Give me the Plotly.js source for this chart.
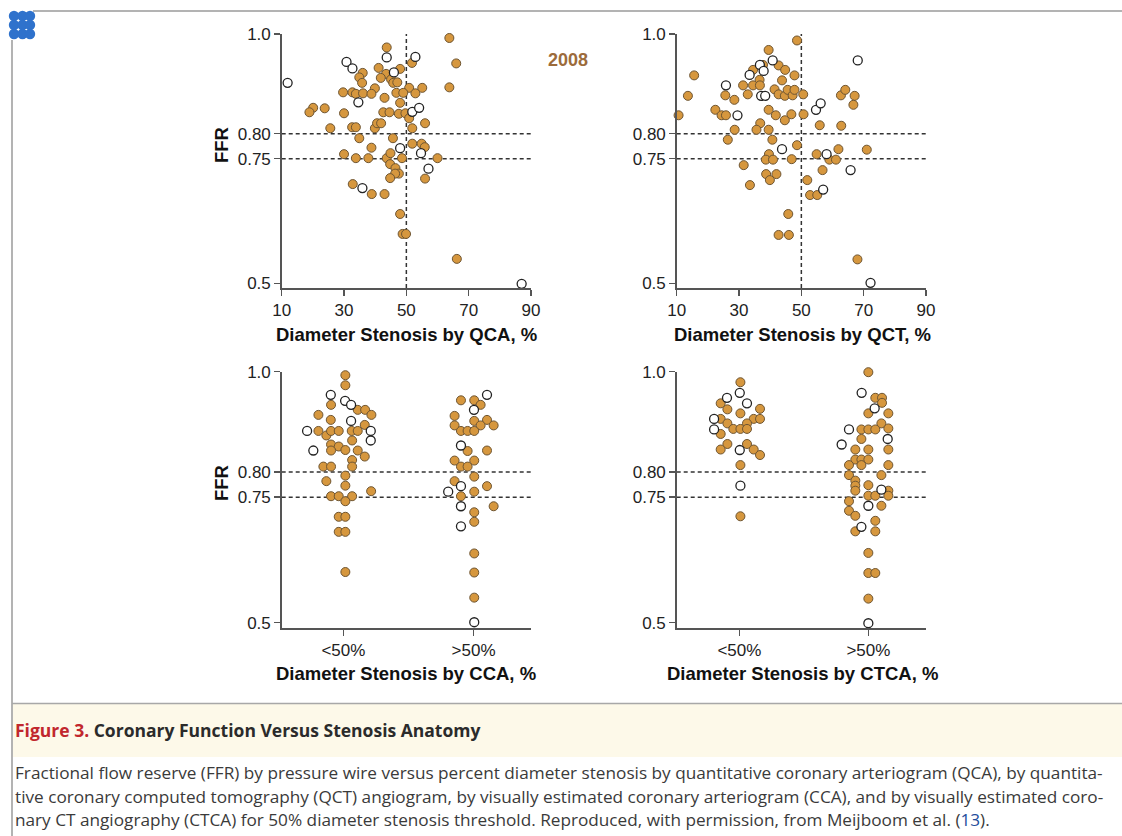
<!DOCTYPE html>
<html>
<head>
<meta charset="utf-8">
<script src="https://cdn.plot.ly/plotly-3.0.1.min.js"></script>
<style>
  html, body { margin: 0; padding: 0; background: #ffffff; }
  #chart { width: 1122px; height: 836px; }
</style>
</head>
<body>
<div id="chart"></div>
<script>
// ---------- DATA ----------
// Panel A: FFR vs diameter stenosis by QCA (%)
const qcaFilledX = [63.8,43.7,51.8,66.0,41.1,48.0,36.0,43.5,34.9,41.8,45.1,35.8,45.8,47.1,63.8,50.9,55.1,39.9,29.7,32.7,33.8,36.1,38.8,46.8,49.0,52.9,43.0,48.0,20.1,18.9,23.8,30.0,42.6,44.6,47.6,49.7,50.9,25.6,32.6,33.8,39.9,40.6,41.9,51.9,56.0,34.9,45.7,51.9,54.9,55.9,38.8,30.0,33.8,37.8,43.7,44.9,48.6,60.0,44.8,46.5,47.6,46.4,44.8,56.0,32.8,38.9,43.0,48.0,48.8,49.9,66.2];
const qcaFilledY = [0.992,0.973,0.942,0.941,0.932,0.930,0.922,0.920,0.913,0.912,0.909,0.902,0.902,0.903,0.893,0.892,0.892,0.891,0.883,0.883,0.880,0.881,0.880,0.882,0.882,0.881,0.872,0.862,0.852,0.843,0.851,0.841,0.843,0.843,0.840,0.841,0.831,0.811,0.813,0.813,0.811,0.821,0.821,0.811,0.821,0.791,0.791,0.780,0.780,0.773,0.772,0.759,0.751,0.751,0.751,0.761,0.751,0.751,0.739,0.731,0.720,0.720,0.711,0.710,0.699,0.679,0.679,0.639,0.599,0.599,0.549];
const qcaOpenX = [11.9,43.7,52.9,30.8,32.7,46.0,34.6,51.9,54.1,48.0,54.7,57.1,35.9,87.0];
const qcaOpenY = [0.902,0.953,0.954,0.944,0.931,0.923,0.863,0.844,0.852,0.771,0.761,0.730,0.691,0.499];

// Panel B: FFR vs diameter stenosis by QCT (%)
const qctFilledX = [10.6,13.6,15.6,22.4,24.4,25.8,25.6,28.5,28.6,26.4,31.5,33.5,31.3,32.8,34.5,37.7,36.6,34.5,36.7,41.4,39.5,42.7,44.8,43.8,47.8,42.7,44.7,45.6,47.2,47.8,50.6,48.6,39.5,41.8,46.8,44.7,50.7,36.8,35.6,39.5,40.7,48.6,39.6,38.6,40.9,46.9,38.7,42.0,39.9,45.8,42.7,46.0,51.9,52.8,55.1,55.9,54.9,56.8,59.0,61.1,61.9,62.7,64.1,62.8,67.1,66.7,71.0,68.0];
const qctFilledY = [0.837,0.876,0.917,0.848,0.837,0.837,0.877,0.868,0.808,0.788,0.737,0.697,0.897,0.879,0.928,0.938,0.908,0.897,0.897,0.889,0.968,0.937,0.928,0.907,0.917,0.879,0.876,0.888,0.877,0.888,0.879,0.987,0.848,0.837,0.839,0.827,0.839,0.821,0.808,0.808,0.788,0.777,0.759,0.748,0.748,0.749,0.719,0.719,0.707,0.639,0.597,0.597,0.707,0.677,0.677,0.817,0.759,0.727,0.748,0.748,0.769,0.877,0.888,0.816,0.876,0.858,0.768,0.548];
const qctOpenX = [25.8,29.5,33.4,36.7,37.9,37.1,38.4,40.8,43.8,57.0,54.7,56.2,58.1,68.1,65.8,72.2];
const qctOpenY = [0.897,0.837,0.918,0.938,0.926,0.876,0.876,0.947,0.769,0.688,0.848,0.861,0.759,0.947,0.727,0.501];

// Panel C: FFR vs visually estimated CCA (0 = <50%, 1 = >50%, with dot-plot offsets)
const ccaFilledX = [0.015,0.015,-0.095,0.110,0.167,0.215,-0.192,-0.097,0.164,-0.192,-0.131,-0.095,-0.036,0.064,0.110,0.067,-0.095,-0.036,0.015,-0.095,0.110,0.164,0.067,-0.154,-0.095,0.067,0.015,-0.131,0.015,0.213,-0.095,-0.036,0.067,0.015,-0.036,0.015,-0.036,0.015,0.015,
  0.903,1.005,1.054,0.854,1.005,1.103,0.854,1.054,1.154,0.903,0.954,1.005,0.954,1.103,0.854,1.005,0.903,0.954,1.005,0.854,1.103,1.005,0.903,1.154,1.005,1.005,1.005,1.005,1.005];
const ccaFilledY = [0.993,0.973,0.934,0.924,0.924,0.914,0.914,0.904,0.894,0.882,0.873,0.882,0.882,0.882,0.882,0.863,0.855,0.851,0.844,0.843,0.843,0.831,0.824,0.811,0.811,0.811,0.793,0.782,0.773,0.762,0.752,0.752,0.752,0.742,0.711,0.711,0.681,0.681,0.601,
  0.943,0.943,0.934,0.912,0.902,0.904,0.893,0.893,0.893,0.882,0.882,0.882,0.842,0.843,0.823,0.823,0.811,0.811,0.791,0.782,0.772,0.761,0.752,0.732,0.720,0.701,0.638,0.600,0.550];
const ccaOpenX = [-0.097,0.013,0.059,0.059,-0.279,0.210,0.210,-0.231, 1.103,1.003,0.903,0.903,0.805,0.903,0.903,1.005];
const ccaOpenY = [0.954,0.942,0.934,0.902,0.882,0.882,0.863,0.843, 0.954,0.924,0.853,0.772,0.761,0.732,0.692,0.501];

// Panel D: FFR vs visually estimated CTCA
const ctcaFilledX = [0.008,-0.145,-0.093,0.160,0.008,-0.145,0.111,0.160,-0.093,0.059,-0.047,0.008,0.059,-0.145,-0.093,-0.145,0.059,0.111,0.160,0.008,0.008,
  1.0,1.054,1.106,1.106,1.0,1.155,1.101,0.946,1.0,1.054,1.155,0.946,0.899,1.0,1.155,0.899,0.946,1.0,0.850,0.946,1.155,0.850,1.101,0.899,0.899,1.0,0.899,1.155,1.0,1.054,1.155,0.850,1.101,0.850,0.899,1.054,0.899,1.054,1.0,1.0,1.054,1.0];
const ctcaFilledY = [0.979,0.937,0.925,0.926,0.917,0.906,0.906,0.906,0.897,0.897,0.886,0.886,0.886,0.876,0.856,0.845,0.856,0.845,0.834,0.814,0.712,
  0.999,0.948,0.948,0.938,0.917,0.917,0.897,0.885,0.885,0.885,0.887,0.866,0.845,0.845,0.845,0.825,0.825,0.825,0.814,0.814,0.814,0.794,0.794,0.783,0.773,0.774,0.763,0.763,0.753,0.753,0.753,0.742,0.733,0.723,0.713,0.703,0.682,0.682,0.639,0.599,0.599,0.548];
const ctcaOpenX = [0.003,-0.096,0.059,-0.196,-0.196,0.003,0.008, 0.948,1.049,0.850,1.150,0.793,1.101,1.0,0.946,1.0];
const ctcaOpenY = [0.958,0.948,0.937,0.906,0.885,0.844,0.773, 0.958,0.927,0.885,0.866,0.855,0.765,0.733,0.691,0.499];

const yTickVals = [0.5, 0.75, 0.80, 1.0];
const yTickText = ['0.5', '0.75', '0.80', '1.0'];
const xTickValsNum = [10, 30, 50, 70, 90];
const xTickValsCat = [0, 1];
const xTickTextCat = ['&lt;50%', '&gt;50%'];
const ffrThresholds = [0.80, 0.75];
const stenosisCut = 50;

const axisTitles = ['Diameter Stenosis by QCA, %', 'Diameter Stenosis by QCT, %',
                    'Diameter Stenosis by CCA, %', 'Diameter Stenosis by CTCA, %'];

// ---------- STYLE ----------
const W = 1122, H = 836;
const px = v => v / W;
const py = v => 1 - v / H;
const FILL = '#d6973e', FILL_LINE = '#6e5532';
const AX = '#555555';
const FONT = 'Liberation Sans, Arial, Helvetica, sans-serif';
const MS = 9;

function pts(x, y, xa, ya, open) {
  return {
    type: 'scatter', mode: 'markers', x: x, y: y, xaxis: xa, yaxis: ya,
    cliponaxis: false, hoverinfo: 'skip', showlegend: false,
    marker: open
      ? { size: MS, color: '#ffffff', line: { color: '#222222', width: 1.3 } }
      : { size: MS, color: FILL, line: { color: FILL_LINE, width: 1 } }
  };
}

const data = [
  pts(qcaFilledX, qcaFilledY, 'x', 'y', false),
  pts(qcaOpenX, qcaOpenY, 'x', 'y', true),
  pts(qctFilledX, qctFilledY, 'x2', 'y2', false),
  pts(qctOpenX, qctOpenY, 'x2', 'y2', true),
  pts(ccaFilledX, ccaFilledY, 'x3', 'y3', false),
  pts(ccaOpenX, ccaOpenY, 'x3', 'y3', true),
  pts(ctcaFilledX, ctcaFilledY, 'x4', 'y4', false),
  pts(ctcaOpenX, ctcaOpenY, 'x4', 'y4', true)
];

const colL = [px(281.7), px(531)];
const colR = [px(676.7), px(926)];
const rowT = [py(288), py(34)];
const rowB = [py(628), py(371.7)];

const tickFont = { family: FONT, size: 17, color: '#222' };
function yAxis(domain, lo, anchor) {
  return {
    domain: domain, range: [lo, 1.0], anchor: anchor,
    tickvals: yTickVals, ticktext: yTickText,
    showline: true, linecolor: AX, linewidth: 1.5,
    ticks: 'outside', ticklen: 6, tickwidth: 1.5, tickcolor: AX,
    showgrid: false, zeroline: false, fixedrange: true,
    tickfont: tickFont
  };
}
function xAxis(domain, range, anchor, cat) {
  return {
    domain: domain, range: range, anchor: anchor,
    tickvals: cat ? xTickValsCat : xTickValsNum,
    ticktext: cat ? xTickTextCat : xTickValsNum.map(String),
    showline: true, linecolor: AX, linewidth: 1.5,
    ticks: 'outside', ticklen: 6, tickwidth: 1.5, tickcolor: AX,
    showgrid: false, zeroline: false, fixedrange: true,
    tickfont: tickFont
  };
}

const shapes = [];
const refs = [['x', 'y'], ['x2', 'y2'], ['x3', 'y3'], ['x4', 'y4']];
refs.forEach(([xr, yr]) => {
  ffrThresholds.forEach(t => shapes.push({
    type: 'line', layer: 'below', xref: xr + ' domain', yref: yr,
    x0: 0, x1: 1, y0: t, y1: t,
    line: { color: '#333', width: 1.5, dash: '4px,3px' }
  }));
});
[['x', 'y'], ['x2', 'y2']].forEach(([xr, yr]) => shapes.push({
  type: 'line', layer: 'below', xref: xr, yref: yr + ' domain',
  x0: stenosisCut, x1: stenosisCut, y0: 0, y1: 1,
  line: { color: '#333', width: 1.5, dash: '4px,3px' }
}));

// page frame & caption box
shapes.push({ type: 'line', xref: 'paper', yref: 'paper', x0: px(33), x1: 1, y0: py(11), y1: py(11), line: { color: '#9a9a9a', width: 1.5 } });
shapes.push({ type: 'line', xref: 'paper', yref: 'paper', x0: px(12), x1: px(12), y0: py(40), y1: 0, line: { color: '#9a9a9a', width: 1.5 } });
shapes.push({ type: 'rect', xref: 'paper', yref: 'paper', x0: px(12.8), x1: 1, y0: py(757), y1: py(704), fillcolor: '#fdf9e9', line: { width: 0 }, layer: 'below' });
shapes.push({ type: 'line', xref: 'paper', yref: 'paper', x0: px(12), x1: 1, y0: py(703.5), y1: py(703.5), line: { color: '#a8a8a8', width: 1.5 } });
// journal logo (decorative)
const logoC = [[14,16],[22.5,16],[30,16],[14,25],[22.5,25],[30,25],[14,34],[22.5,34],[30,34]];
logoC.forEach(([cx, cy]) => shapes.push({
  type: 'circle', xref: 'paper', yref: 'paper',
  x0: px(cx - 5.2), x1: px(cx + 5.2), y0: py(cy + 5.2), y1: py(cy - 5.2),
  fillcolor: '#2f72cc', line: { width: 0 }
}));

const titleFont = { family: FONT, size: 18.5, color: '#111' };
const capFont = { family: 'Open Sans, sans-serif', size: 17.2, color: '#3a3a3a' };
const annotations = [
  { text: '<b>' + axisTitles[0] + '</b>', x: px(406), y: py(334), xref: 'paper', yref: 'paper', showarrow: false, font: titleFont, xanchor: 'center', yanchor: 'middle' },
  { text: '<b>' + axisTitles[1] + '</b>', x: px(802), y: py(334), xref: 'paper', yref: 'paper', showarrow: false, font: titleFont, xanchor: 'center', yanchor: 'middle' },
  { text: '<b>' + axisTitles[2] + '</b>', x: px(406), y: py(673), xref: 'paper', yref: 'paper', showarrow: false, font: titleFont, xanchor: 'center', yanchor: 'middle' },
  { text: '<b>' + axisTitles[3] + '</b>', x: px(802), y: py(673), xref: 'paper', yref: 'paper', showarrow: false, font: titleFont, xanchor: 'center', yanchor: 'middle' },
  { text: '<b>FFR</b>', x: px(221), y: py(145), xref: 'paper', yref: 'paper', showarrow: false, textangle: -90, font: titleFont, xanchor: 'center', yanchor: 'middle' },
  { text: '<b>FFR</b>', x: px(221), y: py(483), xref: 'paper', yref: 'paper', showarrow: false, textangle: -90, font: titleFont, xanchor: 'center', yanchor: 'middle' },
  { text: '<b>2008</b>', x: px(568), y: py(60), xref: 'paper', yref: 'paper', showarrow: false, font: { family: FONT, size: 18, color: '#9c6b3b' }, xanchor: 'center', yanchor: 'middle' },
  { text: '<b><span style="color:#c1272d">Figure 3.</span> Coronary Function Versus Stenosis Anatomy</b>', x: px(13), y: py(730), xref: 'paper', yref: 'paper', showarrow: false, font: { family: 'Open Sans, sans-serif', size: 17.5, color: '#2b2b2b' }, xanchor: 'left', yanchor: 'middle' },
  { text: 'Fractional flow reserve (FFR) by pressure wire versus percent diameter stenosis by quantitative coronary arteriogram (QCA), by quantita-', x: px(13), y: py(772), xref: 'paper', yref: 'paper', showarrow: false, font: capFont, xanchor: 'left', yanchor: 'middle' },
  { text: 'tive coronary computed tomography (QCT) angiogram, by visually estimated coronary arteriogram (CCA), and by visually estimated coro-', x: px(13), y: py(796), xref: 'paper', yref: 'paper', showarrow: false, font: capFont, xanchor: 'left', yanchor: 'middle' },
  { text: 'nary CT angiography (CTCA) for 50% diameter stenosis threshold. Reproduced, with permission, from Meijboom et al. (<span style="color:#1f4e9c">13</span>).', x: px(13), y: py(819), xref: 'paper', yref: 'paper', showarrow: false, font: capFont, xanchor: 'left', yanchor: 'middle' }
];

const layout = {
  width: W, height: H,
  margin: { l: 0, r: 0, t: 0, b: 0 },
  paper_bgcolor: '#ffffff', plot_bgcolor: 'rgba(0,0,0,0)',
  showlegend: false, hovermode: false,
  xaxis: xAxis(colL, [10, 90], 'y', false),
  yaxis: yAxis(rowT, 0.4906, 'x'),
  xaxis2: xAxis(colR, [10, 90], 'y2', false),
  yaxis2: yAxis(rowT, 0.4906, 'x2'),
  xaxis3: xAxis(colL, [-0.474, 1.441], 'y3', true),
  yaxis3: yAxis(rowB, 0.4895, 'x3'),
  xaxis4: xAxis(colR, [-0.486, 1.447], 'y4', true),
  yaxis4: yAxis(rowB, 0.4895, 'x4'),
  shapes: shapes,
  annotations: annotations
};

Plotly.newPlot('chart', data, layout, { staticPlot: true, displayModeBar: false });
</script>
</body>
</html>
